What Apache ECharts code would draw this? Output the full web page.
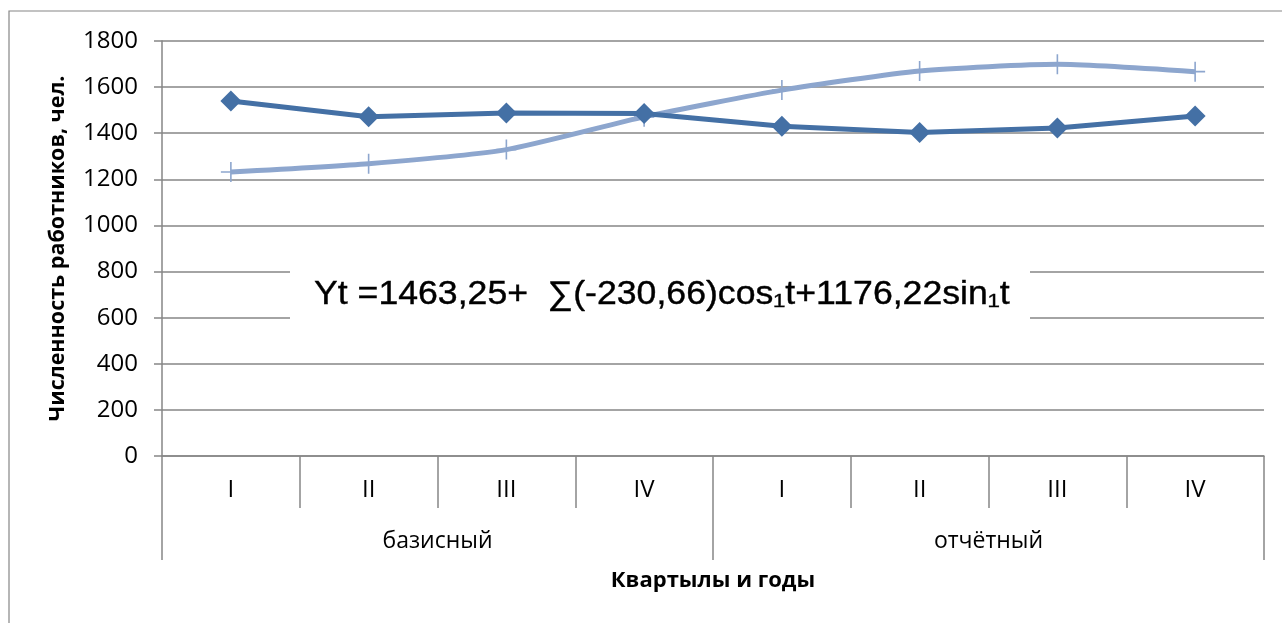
<!DOCTYPE html>
<html>
<head>
<meta charset="utf-8">
<script src="https://cdn.jsdelivr.net/npm/echarts@6/dist/echarts.min.js"></script>
<style>
  html, body { margin: 0; padding: 0; background: #fff; }
  #chart { width: 1282px; height: 623px; }
</style>
</head>
<body>
<div id="chart"></div>
<script>
// данные графика
const quarters = ['I', 'II', 'III', 'IV', 'I', 'II', 'III', 'IV']
const years = ['базисный', 'отчётный']
const actual = [1540, 1471, 1488, 1486, 1430, 1403, 1423, 1475]
const trend = [1232, 1268, 1329, 1471, 1587, 1670, 1699, 1667]
const formula = 'Yt =1463,25+  \u2211(-230,66)cos\u2081t+1176,22sin\u2081t'

const gridColor = '#868686'
const font = '"Open Sans", "Liberation Sans", sans-serif'

const chart = echarts.init(document.getElementById('chart'))

const option = {
  animation: false,
  backgroundColor: '#fff',
  grid: { left: 162, right: 18, top: 41, bottom: 167, containLabel: false },
  xAxis: [
    {
      type: 'category',
      data: quarters,
      boundaryGap: true,
      axisLine: { lineStyle: { color: gridColor, width: 1.5 } },
      axisTick: { show: true, interval: 0, length: 52, lineStyle: { color: gridColor, width: 1.5 } },
      axisLabel: { interval: 0, margin: 22, fontSize: 24, color: '#000', fontFamily: font }
    },
    {
      type: 'category',
      data: years,
      position: 'bottom',
      offset: 52,
      boundaryGap: true,
      axisLine: { show: false },
      axisTick: { show: true, interval: 0, length: 52, lineStyle: { color: gridColor, width: 1.5 } },
      axisLabel: { interval: 0, margin: 22, fontSize: 23, color: '#000', fontFamily: font },
      name: 'Квартылы и годы',
      nameLocation: 'middle',
      nameGap: 62,
      nameTextStyle: { fontSize: 22, fontWeight: 'bold', color: '#000', fontFamily: font }
    }
  ],
  yAxis: {
    type: 'value',
    min: 0,
    max: 1800,
    interval: 200,
    name: 'Численность работников, чел.',
    nameLocation: 'middle',
    nameGap: 93,
    nameTextStyle: { fontSize: 21.5, fontWeight: 'bold', color: '#000', fontFamily: font },
    axisLine: { show: true, lineStyle: { color: gridColor, width: 1.5 } },
    axisTick: { show: true, length: 8, lineStyle: { color: gridColor, width: 1.5 } },
    axisLabel: {
      margin: 24,
      fontSize: 24,
      color: '#000',
      fontFamily: font,
      formatter: v => String(v)
    },
    splitLine: { lineStyle: { color: gridColor, width: 1.5 } }
  },
  series: [
    {
      type: 'line',
      data: actual,
      symbol: 'diamond',
      symbolSize: 21,
      lineStyle: { color: '#4470A5', width: 5 },
      itemStyle: { color: '#4470A5' },
      z: 3
    },
    {
      type: 'line',
      data: trend,
      smooth: 0.2,
      symbol: 'path://M-0.8,-10 h1.6 v9.2 h9.2 v1.6 h-9.2 v9.2 h-1.6 v-9.2 h-9.2 v-1.6 h9.2 z',
      symbolSize: 20,
      lineStyle: { color: '#8DA6CE', width: 5 },
      itemStyle: { color: '#8DA6CE' },
      z: 2
    }
  ],
  graphic: [
    {
      type: 'rect',
      shape: { x: 9, y: 11, width: 1290, height: 630 },
      style: { fill: 'none', stroke: gridColor, lineWidth: 1.2 },
      silent: true,
      z: 0
    },
    {
      type: 'rect',
      shape: { x: 290, y: 262, width: 740, height: 62 },
      style: { fill: '#fff' },
      z: 10
    },
    {
      type: 'text',
      x: 314,
      y: 295,
      scaleX: 1.08,
      style: {
        text: formula,
        fontSize: 33,
        fontFamily: '"Liberation Sans", Arial, sans-serif',
        fill: '#000',
        stroke: '#000',
        lineWidth: 0.4,
        verticalAlign: 'middle'
      },
      z: 11
    }
  ]
}

chart.setOption(option)
</script>
</body>
</html>
